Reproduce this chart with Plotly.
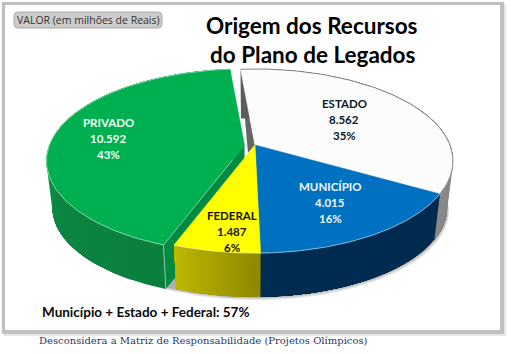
import numpy as np
import plotly.graph_objects as go

categories = ["ESTADO", "MUNICÍPIO", "FEDERAL", "PRIVADO"]
values = [8562, 4015, 1487, 10592]
percents = [35, 16, 6, 43]
top_colors = ["#FCFCFC", "#0070C0", "#FFFF00", "#00B050"]
side_left = ["#5A5A5A", "#002C52", "#BDB700", "#0E9E4C"]
side_right = ["#8A8A8A", "#002A4E", "#8C8800", "#0A7E3E"]
label_colors = ["#0B1A26", "#F2F8FF", "#141400", "#F0FFF5"]
label_xy = [(344, 103), (330, 186), (232, 215), (108, 122)]
offsets = [(0, 0), (0, 0), (0, 0), (-10.5, 0)]

CX, CY, A, B, K = 255.0, 145.0, 195.0, 89.3, 0.174
S, CY2 = 0.97, 192.0
START = -5.0
W, H = 512, 354


def proj(deg, r=1.0, bottom=False, off=(0, 0)):
    t = np.radians(deg)
    u, v = r * np.sin(t), -r * np.cos(t)
    d = 1 - K * v
    s, cy = (S, CY2) if bottom else (1.0, CY)
    return CX + off[0] + s * A * u / d, cy + off[1] + s * B * v / d


def hexrgb(c):
    return [int(c[i:i + 2], 16) for i in (1, 3, 5)]


def mix(a, b, t):
    x, y = hexrgb(a), hexrgb(b)
    return "rgb(%d,%d,%d)" % tuple(round(x[i] + (y[i] - x[i]) * t) for i in range(3))


fig = go.Figure()


def poly(xs, ys, fill, line=None, width=0, opacity=1.0):
    fig.add_trace(go.Scatter(
        x=list(xs), y=list(ys), mode="lines", fill="toself", fillcolor=fill, opacity=opacity,
        line=dict(color=line or fill, width=width),
        hoverinfo="skip", showlegend=False))


def stroke(xs, ys, color, width):
    fig.add_trace(go.Scatter(x=list(xs), y=list(ys), mode="lines",
                             line=dict(color=color, width=width),
                             hoverinfo="skip", showlegend=False))


total = sum(values)
bounds = START + np.concatenate([[0], np.cumsum(values)]) / total * 360


def side(i):
    # each strip runs on to the end of the slice, the next one paints over it, so no seams show
    lo, hi = bounds[i], bounds[i + 1]
    off = offsets[i]
    edges = np.linspace(lo, hi, 31)
    for j in range(30):
        e = np.linspace(edges[j], hi, 40)
        tx, ty = proj(e, off=off)
        bx, by = proj(e[::-1], bottom=True, off=off)
        frac = (j + 0.5) / 30
        poly(np.r_[tx, bx], np.r_[ty, by], mix(side_right[i], side_left[i], frac)
             if i != 0 else mix(side_left[i], side_right[i], frac))


def top(i, outline=None, width=0):
    lo, hi = bounds[i], bounds[i + 1]
    off = offsets[i]
    e = np.linspace(lo, hi, 90)
    ax, ay = proj(e, off=off)
    px, py = proj(0, 0, off=off)
    poly(np.r_[px, ax, px], np.r_[py, ay, py], top_colors[i], line=top_colors[i], width=0.5)
    if outline:
        stroke(ax, ay, outline, width)


# soft shadow under the pie's lower edge
for grow, op in [(3.5, 0.12), (2.2, 0.18), (1.0, 0.25)]:
    e = np.linspace(95, 285, 120)
    bx, by = proj(e, bottom=True)
    poly(np.r_[bx + grow * 0.6], np.r_[by + grow], "#555555", opacity=op)

# Estado: inner wall, side, top
p, q = proj(bounds[0]), proj(0, 0)
poly([p[0], q[0], q[0] - 7], [p[1], q[1], q[1] + 8], "#666666")
side(0)
top(0, "#6A6A6A", 0.8)

# Município
side(1)
top(1, "#BFDDF2", 0.7)

# Privado: wall, side, top
off3 = offsets[3]
c1, c2 = proj(bounds[3], off=off3), proj(bounds[3], bottom=True, off=off3)
ap1, ap2 = proj(0, 0, off=off3), proj(0, 0, bottom=True, off=off3)
poly([ap1[0], c1[0], c2[0], ap2[0]], [ap1[1], c1[1], c2[1], ap2[1]], "#008A42")
side(3)
top(3, "#B8E8CC", 0.7)
stroke([c1[0], c2[0]], [c1[1], c2[1]], "#BCE8CE", 0.7)
stroke([ap1[0] - 12, c1[0]], [ap1[1] + 15, c1[1]], "#BCE8CE", 0.6)

# Federal
side(2)
top(2, "#F4F4B0", 0.6)

annotations = []
for i, cat in enumerate(categories):
    x, y = label_xy[i]
    lines = [cat, f"{values[i]:,}".replace(",", "."), f"{percents[i]}%"]
    for k, t in enumerate(lines):
        annotations.append(dict(x=x, y=y + k * 16, text=f"<b>{t}</b>", showarrow=False,
                                xanchor="center", yanchor="middle",
                                font=dict(family="Lato", size=11.5, color=label_colors[i])))

annotations += [
    dict(x=312, y=25, text="<b>Origem dos Recursos</b>", showarrow=False, xanchor="center", yanchor="middle",
         font=dict(family="Lato", size=22.5, color="#000000")),
    dict(x=313, y=54, text="<b>do Plano de Legados</b>", showarrow=False, xanchor="center", yanchor="middle",
         font=dict(family="Lato", size=22.5, color="#000000")),
    dict(x=146, y=312, text="<b>Município + Estado + Federal: 57%</b>", showarrow=False, xanchor="center",
         yanchor="middle", font=dict(family="Lato", size=13.5, color="#0A0A0A")),
    dict(x=203.5, y=340, text="Desconsidera a Matriz de Responsabilidade (Projetos Olímpicos)", showarrow=False,
         xanchor="center", yanchor="middle", font=dict(family="DejaVu Serif", size=10, color="#1F3864")),
    dict(x=88, y=20, text="VALOR (em milhões de Reais)", showarrow=False, xanchor="center", yanchor="middle",
         font=dict(family="Open Sans", size=10.5, color="#333333")),
]

shapes = [
    dict(type="rect", x0=4, y0=4, x1=506, y1=336, fillcolor="#E6E6E6", line_width=0, layer="below"),
    dict(type="rect", x0=2, y0=2, x1=504, y1=334, fillcolor="#C0C0C0", line_width=0, layer="below"),
    dict(type="rect", x0=5, y0=5, x1=500, y1=330, fillcolor="#FFFFFF", line_width=0, layer="below"),
    dict(type="path", layer="below", fillcolor="#CCCCCC", line=dict(color="#A8A8A8", width=1),
         path="M18,12 L158,12 Q162,12 162,16 L162,24 Q162,28 158,28 L18,28 Q14,28 14,24 L14,16 Q14,12 18,12 Z"),
]

fig.update_layout(
    width=W, height=H, margin=dict(l=0, r=0, t=0, b=0),
    paper_bgcolor="#FFFFFF", plot_bgcolor="rgba(0,0,0,0)", showlegend=False,
    xaxis=dict(range=[0, W], visible=False, fixedrange=True),
    yaxis=dict(range=[H, 0], visible=False, fixedrange=True),
    annotations=annotations, shapes=shapes,
)
fig.write_html("out.html", config=dict(displayModeBar=False),
               post_script="document.body.style.margin='0';document.documentElement.style.overflow='hidden';")
